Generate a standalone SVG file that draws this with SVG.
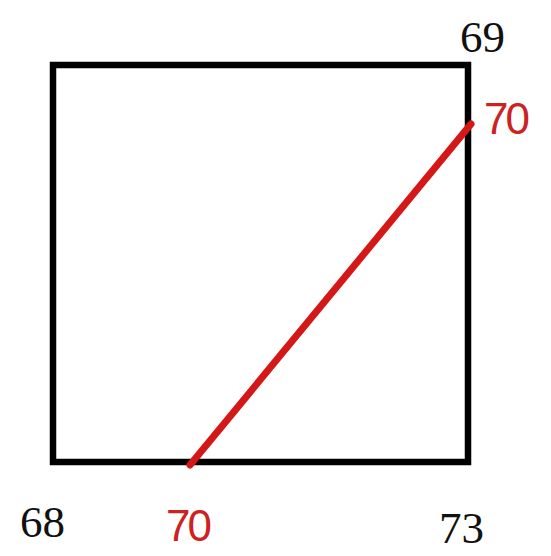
<svg xmlns="http://www.w3.org/2000/svg" width="551" height="556" viewBox="0 0 551 556">
<style>
.lbl{font-family:"Liberation Serif","Times New Roman",serif;font-size:45px;fill:#111}
.red{font-family:"Liberation Sans",Arial,sans-serif;font-size:44px;fill:#cc2222}
</style>
<rect width="551" height="556" fill="#fff"/>
<g id="square"><rect x="53" y="65" width="415" height="397" fill="none" stroke="#000" stroke-width="6.5"/></g>
<g id="connectors"><line x1="471" y1="124" x2="190" y2="465" stroke="#d41818" stroke-width="7" stroke-linecap="round"/></g>
<g id="label-69"><text class="lbl" x="460" y="52">69</text></g>
<g id="label-70-right"><text class="red" x="484" y="134" textLength="46">70</text></g>
<g id="label-68"><text class="lbl" x="20" y="537">68</text></g>
<g id="label-70-bottom"><text class="red" x="166" y="541" textLength="46">70</text></g>
<g id="label-73"><text class="lbl" x="439" y="543">73</text></g>
</svg>
